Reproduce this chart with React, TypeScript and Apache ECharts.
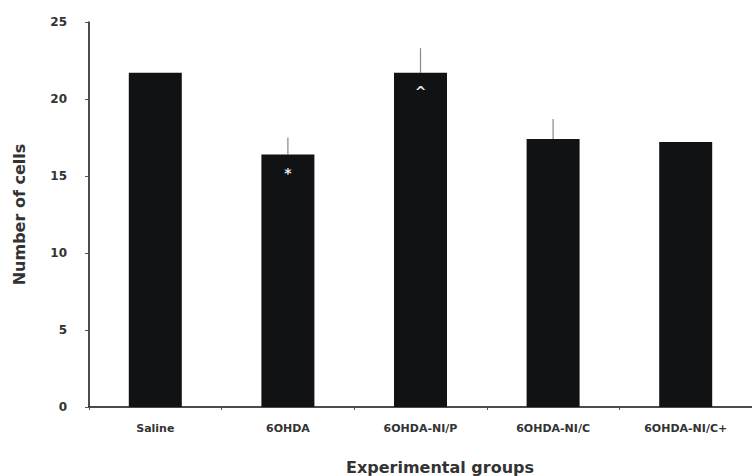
import React, { useEffect, useRef } from "react";
import * as echarts from "echarts";

const categories = ["Saline", "6OHDA", "6OHDA-NI/P", "6OHDA-NI/C", "6OHDA-NI/C+"];
const means = [21.7, 16.4, 21.7, 17.4, 17.2];
const errors = [0, 1.1, 1.6, 1.3, 0];
const markers = ["", "*", "^", "", ""];
const yTicks = [0, 5, 10, 15, 20, 25];

const FONT = "'DejaVu Sans', Verdana, sans-serif";

export default function App() {
  const ref = useRef<HTMLDivElement>(null);
  useEffect(() => {
    if (!ref.current) return;
    const chart = echarts.init(ref.current, null, { renderer: "svg" });
    chart.setOption({
      animation: false,
      backgroundColor: "#ffffff",
      grid: { left: 89, right: -6, top: 22, bottom: 69 },
      xAxis: {
        type: "category",
        data: categories,
        axisLine: { lineStyle: { color: "#111", width: 1.5 } },
        axisTick: { show: true, length: 3, lineStyle: { color: "#555" } },
        axisLabel: {
          color: "#333",
          fontFamily: FONT,
          fontWeight: "bold",
          fontSize: 11,
          margin: 16,
        },
      },
      yAxis: {
        type: "value",
        min: yTicks[0],
        max: yTicks[yTicks.length - 1],
        interval: 5,
        name: "Number of cells",
        nameLocation: "middle",
        nameGap: 62,
        nameTextStyle: {
          color: "#333",
          fontFamily: FONT,
          fontWeight: "bold",
          fontSize: 16,
        },
        splitLine: { show: false },
        axisLine: { show: true, lineStyle: { color: "#111", width: 1.5 } },
        axisTick: { show: true, length: 4, lineStyle: { color: "#555" } },
        axisLabel: {
          color: "#333",
          fontFamily: FONT,
          fontWeight: "bold",
          fontSize: 12,
          margin: 22,
        },
      },
      graphic: [
        {
          type: "text",
          x: 440,
          y: 467,
          style: {
            text: "Experimental groups",
            fill: "#333",
            font: `bold 16px ${FONT}`,
            textAlign: "center",
            textVerticalAlign: "middle",
          },
        },
      ],
      series: [
        {
          type: "bar",
          data: means,
          barWidth: 53,
          itemStyle: { color: "#111214" },
          label: {
            show: true,
            position: "insideTop",
            distance: 12,
            color: "#e8e8e8",
            fontFamily: FONT,
            fontWeight: "bold",
            fontSize: 14,
            formatter: (p: any) => markers[p.dataIndex],
          },
          z: 2,
        },
        {
          type: "custom",
          data: means.map((m, i) => [i, m, m + errors[i]]),
          renderItem: (params: any, api: any) => {
            const i = api.value(0);
            const lo = api.coord([i, api.value(1)]);
            const hi = api.coord([i, api.value(2)]);
            if (api.value(2) <= api.value(1)) return null;
            return {
              type: "line",
              shape: { x1: lo[0], y1: lo[1], x2: hi[0], y2: hi[1] },
              style: { stroke: "#888", lineWidth: 1.2 },
            };
          },
          z: 1,
        },
      ],
    });
    return () => chart.dispose();
  }, []);
  return (
    <div
      ref={ref}
      style={{ position: "fixed", left: 0, top: 0, width: 752, height: 476 }}
    />
  );
}
